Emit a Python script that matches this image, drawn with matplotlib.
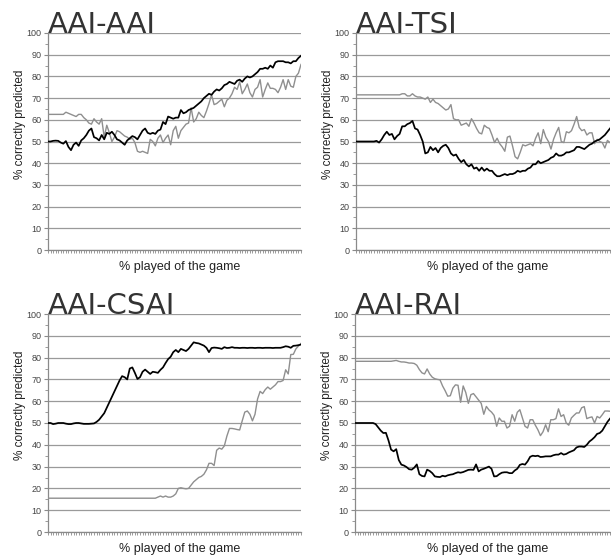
import numpy as np
import matplotlib
matplotlib.use("Agg")
import matplotlib.pyplot as plt
from matplotlib.ticker import MultipleLocator

# Valeurs (100 points par courbe)
aai_black = [50, 50, 50.3, 50.4, 50.3, 49.5, 49, 50.2, 47.5, 46,
             48.5, 49.5, 48, 50.5, 51.5, 53, 55, 56, 52, 51.5,
             50.5, 53, 51, 54, 53.5, 54.5, 53, 51, 50.5, 49.5,
             48.5, 50.5, 51.5, 52.5, 52, 51, 53, 55, 56, 54,
             53.5, 54, 53.5, 55, 55.5, 59, 58, 61.5, 61, 60.5,
             61, 61, 64.5, 63, 63.5, 64.5, 65, 65.5, 66.5, 67.5,
             68.5, 70, 71, 72, 71.5, 73, 74, 73.5, 74.5, 76,
             76.5, 77.5, 77, 76.5, 78, 78.5, 77.5, 79, 80, 79.5,
             80, 81, 82, 83.5, 83.5, 84, 83.5, 85, 84, 86.5,
             87, 87, 87, 86.5, 86.5, 86, 87, 87, 88.5, 89.5]
aai_gray = [62.5, 62.5, 62.5, 62.5, 62.5, 62.5, 62.5, 63.5, 63, 62.5,
            62, 61.5, 62.5, 62.5, 61, 60, 58.5, 58, 60.5, 59,
            58, 60.5, 52, 57.5, 54, 50, 52, 55, 54.5, 53.5,
            52.5, 52, 51, 51.5, 49.5, 45.5, 45, 45.5, 45, 44.5,
            51, 50, 48, 51.5, 53, 49.5, 51.5, 53, 48.5, 55,
            57, 51.5, 55, 56.5, 58, 58.5, 65.5, 59, 60.5, 63.5,
            62, 61, 64, 67.5, 71.5, 67, 67.5, 68.5, 69.5, 66,
            69, 70, 72, 75, 74, 77.5, 72, 74, 76.5, 72.5,
            70.5, 74, 75, 78.5, 70.5, 74, 77, 74.5, 74.5, 74,
            72.5, 75, 78.5, 74, 78.5, 75.5, 75, 80, 81.5, 85.5]

tsi_black = [50, 50, 50, 50, 50, 50, 50, 50, 50.3, 49.5,
             51, 53, 54.5, 53, 53.5, 51, 52.5, 53.5, 57, 57,
             58, 58.5, 59.5, 56, 55.5, 53, 50, 44.5, 45, 47.5,
             46, 47, 45, 47, 48, 48.5, 47, 44.5, 43.5, 44,
             42, 40.5, 41.5, 39.5, 38.5, 39.5, 37.5, 38, 36.5, 38,
             36.5, 37.5, 36.5, 36.5, 35, 34, 34, 34.5, 35, 34.5,
             35, 35, 35.5, 36.5, 36, 36.5, 36.5, 37.5, 38, 39.5,
             39.5, 41, 40, 40.5, 41, 41.5, 42.5, 43, 44.5, 43.5,
             43.5, 44, 45, 45, 45.5, 46, 47.5, 47.5, 47, 46.5,
             47.5, 48.5, 49, 50, 50.5, 51, 52, 53, 54.5, 56]
tsi_gray = [71.5, 71.5, 71.5, 71.5, 71.5, 71.5, 71.5, 71.5, 71.5, 71.5,
            71.5, 71.5, 71.5, 71.5, 71.5, 71.5, 71.5, 71.5, 72, 72,
            71, 71, 72, 71, 70.5, 70.5, 70, 69.5, 70.5, 68,
            69.5, 68, 67.5, 66.5, 65.5, 64.5, 65, 67, 60.5, 60,
            60, 57.5, 58, 58.5, 57, 60.5, 58.5, 56, 54, 53.5,
            57.5, 56.5, 56, 53, 49.5, 51.5, 49, 47.5, 45.5, 52,
            52.5, 48, 43, 42, 45, 48.5, 48, 48.5, 49, 48,
            51.5, 54, 49, 55.5, 52, 50, 46.5, 51, 54, 56.5,
            50, 49.5, 54.5, 54, 55, 58, 61.5, 56.5, 55, 55.5,
            53, 54, 54, 49, 51, 50, 49.5, 47, 50.5, 49.5]

csai_black = [50, 50, 49.5, 49.7, 50, 50, 50, 49.7, 49.5, 49.5,
              49.8, 50, 50, 49.8, 49.6, 49.6, 49.6, 49.7, 49.8, 50.5,
              51.5, 53, 54.5, 57, 59.5, 62, 64.5, 67, 69.5, 71.5,
              71, 70, 75, 75.5, 73, 70.2, 71, 73.5, 74.5, 73.5,
              72.5, 73.5, 73.3, 73, 74.4, 75.5, 77.5, 79.3, 80.4, 82.5,
              83.5, 82.5, 84, 83.5, 83, 84, 85.5, 87, 86.7, 86.5,
              86, 85.5, 84.5, 82.5, 84.4, 84.6, 84.5, 84.3, 84, 84.8,
              84.4, 84.5, 84.8, 84.5, 84.5, 84.4, 84.5, 84.5, 84.4, 84.5,
              84.5, 84.4, 84.5, 84.5, 84.4, 84.5, 84.5, 84.5, 84.4, 84.5,
              84.5, 84.5, 84.8, 85.2, 85, 84.5, 85.4, 85.5, 85.7, 86]
csai_gray = [15.5, 15.5, 15.5, 15.5, 15.5, 15.5, 15.5, 15.5, 15.5, 15.5,
             15.5, 15.5, 15.5, 15.5, 15.5, 15.5, 15.5, 15.5, 15.5, 15.5,
             15.5, 15.5, 15.5, 15.5, 15.5, 15.5, 15.5, 15.5, 15.5, 15.5,
             15.5, 15.5, 15.5, 15.5, 15.5, 15.5, 15.5, 15.5, 15.5, 15.5,
             15.5, 15.5, 15.5, 16, 16.5, 16, 16.5, 16, 16, 16.5,
             17.5, 20, 20.3, 20, 19.8, 20, 21.5, 23, 24, 25,
             25.5, 26.5, 28.5, 31.5, 31.5, 30.5, 37.5, 38.5, 38, 39.5,
             44, 47.5, 47.5, 47.3, 47, 46.8, 51, 55, 55.5, 54,
             51, 54, 61, 64.5, 63.5, 65.3, 66.5, 65.5, 66.5, 67.5,
             69, 69, 69.5, 74.4, 72.5, 81.4, 81.5, 84, 85.3, 86.5]

rai_black = [50, 50, 50, 50, 50, 50, 50, 50, 49.5, 48,
             46.5, 45.4, 45.5, 42, 37.8, 37, 38, 33, 30.9, 30.5,
             29.8, 28.8, 28.6, 29.5, 31, 26.5, 25.7, 25.5, 28.6, 28,
             27, 25.5, 25.3, 25.2, 25.8, 25.5, 26, 26.3, 26.5, 27,
             27.4, 27.2, 27.5, 28, 28.5, 28.6, 28.5, 31, 27.8, 28.6,
             29, 29.5, 30, 29, 25.5, 25.6, 26.5, 27.2, 27.4, 27.4,
             27, 27, 28.2, 29, 30.8, 31.2, 30.9, 32.4, 34.5, 35,
             34.8, 35, 34.4, 34.5, 34.7, 34.7, 34.7, 35.2, 35.5, 35.5,
             36.2, 35.5, 35.8, 36.5, 37, 37.5, 38.8, 39.2, 39.2, 39,
             40, 41.5, 42.4, 43.5, 45, 45.4, 46.5, 48.5, 50.5, 52]
rai_gray = [78.3, 78.3, 78.3, 78.3, 78.3, 78.3, 78.3, 78.3, 78.3, 78.3,
            78.3, 78.3, 78.3, 78.3, 78.3, 78.5, 78.7, 78.3, 78, 78,
            77.8, 77.5, 77.5, 77.3, 76.5, 74.5, 73, 72.5, 74.8, 72.5,
            71, 70.3, 70, 69.8, 67, 64.8, 62.3, 62.5, 66, 67.5,
            67.3, 59.5, 67, 64, 59, 63, 63.5, 62, 60.5, 59,
            54, 57.6, 56, 55, 53.5, 48.5, 52.3, 50.8, 50.8, 47.7,
            48.5, 53.8, 50.8, 54.9, 56.1, 52.3, 48.5, 47.7, 51.5, 51.5,
            49, 46.9, 44.2, 46, 49.2, 46, 51.5, 51.5, 52, 56.5,
            53, 53.8, 50, 49, 52.3, 53.5, 54.6, 54.6, 57, 57.5,
            52, 52.5, 52.8, 50, 53, 52.3, 53.8, 55.5, 55.5, 55.4]

titles = ["AAI-AAI", "AAI-TSI", "AAI-CSAI", "AAI-RAI"]
series = [(aai_black, aai_gray), (tsi_black, tsi_gray),
          (csai_black, csai_gray), (rai_black, rai_gray)]

W, H = 611, 556
# rectangles des axes en pixels: gauche, haut, droite, bas
rects_px = [(48, 33, 301, 250), (356, 33, 610, 250),
            (48, 314, 301, 532), (355, 314, 610, 532)]

fig = plt.figure(figsize=(W / 100, H / 100), dpi=100)
fig.patch.set_facecolor("white")

for title, (black, gray), (l, t, r, b) in zip(titles, series, rects_px):
    ax = fig.add_axes([l / W, (H - b) / H, (r - l) / W, (b - t) / H])
    x = np.arange(len(black))
    ax.plot(x, gray, color="#8f8f8f", lw=1.0, zorder=3)
    ax.plot(x, black, color="black", lw=1.25, zorder=4)

    ax.set_xlim(0, len(black) - 1)
    ax.set_ylim(0, 100)
    ax.yaxis.set_major_locator(MultipleLocator(10))
    ax.yaxis.set_minor_locator(MultipleLocator(5))
    ax.set_xticks(x)
    ax.set_xticklabels([])
    ax.grid(axis="y", color="#9a9a9a", lw=0.9)
    ax.set_axisbelow(True)

    for s in ["top", "right"]:
        ax.spines[s].set_visible(False)
    for s in ["left", "bottom"]:
        ax.spines[s].set_color("#8a8a8a")
        ax.spines[s].set_linewidth(0.9)
    ax.tick_params(axis="y", which="major", length=3, color="#8a8a8a",
                   labelsize=6.5, labelcolor="#444444", pad=1.5)
    ax.tick_params(axis="y", which="minor", length=2, color="#8a8a8a")
    ax.tick_params(axis="x", length=2, width=0.6, color="#8a8a8a")
    for lab in ax.get_yticklabels():
        lab.set_family("Liberation Sans")

    ax.set_ylabel("% correctly predicted", fontsize=8.5, family="Liberation Sans",
                  color="#222222", va="center")
    ax.yaxis.set_label_coords(-0.11, 0.58)
    ax.set_xlabel("% played of the game", fontsize=9, family="Liberation Sans",
                  color="#222222", va="center")
    ax.xaxis.set_label_coords(0.52, -0.08)
    ax.text(0, 1.0, title, transform=ax.transAxes, fontsize=21,
            color="#333333", ha="left", va="baseline", zorder=5)

fig.savefig("out.png", dpi=100)
